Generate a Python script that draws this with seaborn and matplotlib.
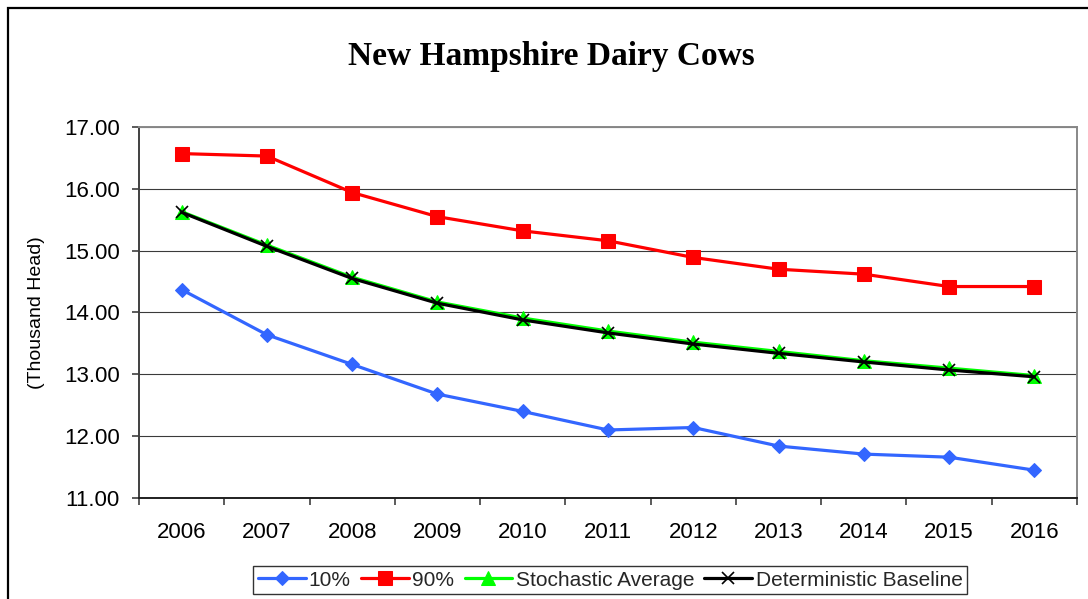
import matplotlib
matplotlib.use("Agg")
import matplotlib.pyplot as plt
from matplotlib.patches import Rectangle
from matplotlib.ticker import FixedLocator, FormatStrFormatter
import seaborn as sns
import pandas as pd
import numpy as np

years = ["2006", "2007", "2008", "2009", "2010", "2011", "2012", "2013", "2014", "2015", "2016"]
p10 = [14.37, 13.64, 13.16, 12.68, 12.40, 12.10, 12.14, 11.84, 11.71, 11.66, 11.45]
p90 = [16.57, 16.53, 15.94, 15.55, 15.32, 15.16, 14.89, 14.70, 14.62, 14.42, 14.42]
stoch_avg = [15.63, 15.09, 14.57, 14.17, 13.91, 13.70, 13.52, 13.37, 13.22, 13.10, 12.98]
det_base = [15.62, 15.07, 14.55, 14.15, 13.88, 13.67, 13.49, 13.34, 13.20, 13.07, 12.96]
series_names = ["10%", "90%", "Stochastic Average", "Deterministic Baseline"]
title = "New Hampshire Dairy Cows"
ylabel = "(Thousand Head)"

sns.set_theme(style="white")
plt.rcParams["font.family"] = ["Liberation Sans", "DejaVu Sans"]

W, H = 1088, 599
fig = plt.figure(figsize=(W / 100, H / 100), dpi=100)
ax = fig.add_axes([139 / W, 1 - 498 / H, (1077 - 139) / W, (498 - 127) / H])

x = np.arange(len(years))
styles = [
    (p10, "#3366FF", "D", 7.5, dict(markeredgecolor="#3366FF")),
    (p90, "#FF0000", "s", 10, dict(markeredgecolor="#FF0000")),
    (stoch_avg, "#00FF00", "^", 10, dict(markeredgecolor="#00FF00")),
    (det_base, "#000000", "x", 8.5, dict(markeredgecolor="#000000", markeredgewidth=1.2)),
]
for i, (vals, col, mk, ms, extra) in enumerate(styles):
    df = pd.DataFrame({"x": x, "y": vals})
    sns.lineplot(data=df, x="x", y="y", ax=ax, color=col, marker=mk, markersize=ms,
                 linewidth=2.3, label=series_names[i], zorder=3 + i, **extra)

ax.set_xlim(-0.5, len(years) - 0.5)
ax.set_ylim(11, 17)
ax.yaxis.set_major_locator(FixedLocator(np.arange(11, 17.01, 1)))
ax.yaxis.set_major_formatter(FormatStrFormatter("%.2f"))
ax.set_xticks(x)
ax.set_xticklabels(years)
ax.set_xticks(np.arange(-0.5, len(years)), minor=True)
ax.tick_params(axis="x", which="major", length=0, pad=17, labelsize=16, colors="black")
ax.tick_params(axis="x", which="minor", length=5, width=1.2, color="#404040", direction="out", bottom=True)
ax.tick_params(axis="y", which="major", length=5, width=1.2, color="#404040", direction="out",
               pad=9, labelsize=16, left=True, labelcolor="black")
ax.grid(axis="y", color="#3a3a3a", linewidth=0.8)
ax.grid(axis="x", visible=False)
ax.set_axisbelow(True)

for side in ["top", "right"]:
    ax.spines[side].set_color("#888888")
    ax.spines[side].set_linewidth(1.4)
ax.spines["left"].set_color("#404040")
ax.spines["left"].set_linewidth(1.4)
ax.spines["bottom"].set_color("#202020")
ax.spines["bottom"].set_linewidth(1.4)

ax.set_xlabel("")
ax.set_ylabel(ylabel, fontsize=14, color="black")
ax.yaxis.set_label_coords((45 - 139) / (1077 - 139), 0.5)

fig.text(551 / W, 1 - 57 / H, title, ha="center", va="center", fontsize=24,
         fontweight="bold", family=["Liberation Serif", "DejaVu Serif"], color="black")

handles, labels = ax.get_legend_handles_labels()
if ax.legend_:
    ax.legend_.remove()
leg = fig.legend(handles, labels, loc="center", bbox_to_anchor=(610 / W, 1 - 580 / H),
                 ncol=4, fontsize=15, frameon=True, fancybox=False, shadow=False,
                 handlelength=2.3, handletextpad=0.15, columnspacing=0.5,
                 borderpad=0.2, borderaxespad=0)
leg.get_frame().set_edgecolor("black")
leg.get_frame().set_linewidth(1.0)

fig.patches.append(Rectangle((7.5 / W, -0.2), 1.2, 1.2 - 7.5 / H, transform=fig.transFigure,
                             fill=False, edgecolor="black", linewidth=1.6, zorder=0))

fig.savefig("out.png", dpi=100)
